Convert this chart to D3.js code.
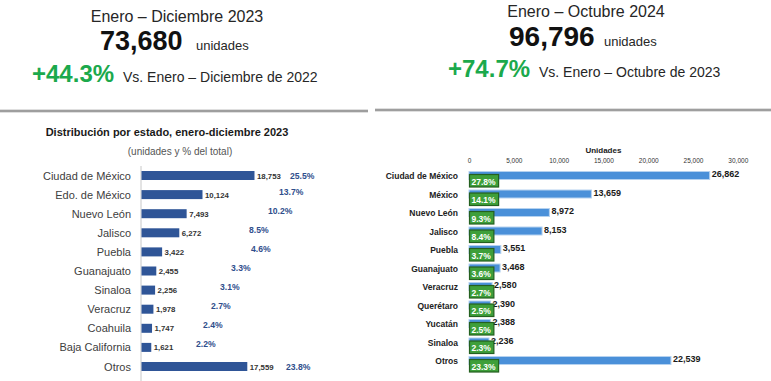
<!DOCTYPE html>
<html><head><meta charset="utf-8">
<script src="https://cdn.jsdelivr.net/npm/d3@7"></script>
<style>
html,body{margin:0;padding:0;background:#fff;}
svg{display:block;font-family:"Liberation Sans",Arial,sans-serif;}
</style></head>
<body>
<svg id="c" width="771" height="381"></svg>
<script>
// ---------- data ----------
const leftPeriod = "Enero – Diciembre 2023";
const leftTotal = "73,680";
const leftGrowth = "+44.3%";
const leftCompare = "Vs. Enero – Diciembre de 2022";
const leftTitle = "Distribución por estado, enero-diciembre 2023";
const leftSubtitle = "(unidades y % del total)";
const leftStates = ["Ciudad de México","Edo. de México","Nuevo León","Jalisco","Puebla","Guanajuato","Sinaloa","Veracruz","Coahuila","Baja California","Otros"];
const leftUnits = [18753,10124,7493,6272,3422,2455,2256,1978,1747,1621,17559];
const leftShare = [25.5,13.7,10.2,8.5,4.6,3.3,3.1,2.7,2.4,2.2,23.8];

const rightPeriod = "Enero – Octubre 2024";
const rightTotal = "96,796";
const rightGrowth = "+74.7%";
const rightCompare = "Vs. Enero – Octubre de 2023";
const rightAxisTitle = "Unidades";
const rightStates = ["Ciudad de México","México","Nuevo León","Jalisco","Puebla","Guanajuato","Veracruz","Querétaro","Yucatán","Sinaloa","Otros"];
const rightUnits = [26862,13659,8972,8153,3551,3468,2580,2390,2388,2236,22539];
const rightShare = [27.8,14.1,9.3,8.4,3.7,3.6,2.7,2.5,2.5,2.3,23.3];
const rightTicks = [0,5000,10000,15000,20000,25000,30000];

// ---------- layout (pixel offsets of the left % labels, as placed in the original) ----------
const leftShareLabelX = [290,279,268,249,251,231,220,211,203,196,286];

const svg = d3.select("#c");
const fmt = d3.format(",");
const GREEN = "#1BA94C";

// ---------- headers ----------
function header(cfg){
  svg.append("text").attr("x",cfg.cx).attr("y",cfg.y1).attr("text-anchor","middle")
    .attr("font-size",16).attr("fill","#262626").text(cfg.period);
  svg.append("text").attr("x",cfg.xTot).attr("y",cfg.y2).attr("font-size",cfg.totSize)
    .attr("font-weight","bold").attr("fill","#111").text(cfg.total);
  svg.append("text").attr("x",cfg.xUni).attr("y",cfg.y2).attr("font-size",13)
    .attr("fill","#262626").text("unidades");
  svg.append("text").attr("x",cfg.xG).attr("y",cfg.y3).attr("font-size",24)
    .attr("font-weight","bold").attr("fill",GREEN).text(cfg.growth);
  svg.append("text").attr("x",cfg.xV).attr("y",cfg.y3).attr("font-size",14)
    .attr("fill","#262626").text(cfg.compare);
}
header({cx:177,y1:21.5,period:leftPeriod,xTot:100,y2:50,totSize:27,total:leftTotal,xUni:196,
  xG:32,y3:82,growth:leftGrowth,xV:123,compare:leftCompare});
header({cx:586,y1:16.5,period:rightPeriod,xTot:509,y2:46,totSize:28,total:rightTotal,xUni:604,
  xG:448,y3:77,growth:rightGrowth,xV:539,compare:rightCompare});

// separators
[[0,368,111],[375,771,110]].forEach(([a,b,y])=>{
  svg.append("line").attr("x1",a).attr("x2",b).attr("y1",y).attr("y2",y)
    .attr("stroke","#d4d4d4").attr("stroke-width",3.5);
  svg.append("line").attr("x1",a).attr("x2",b).attr("y1",y).attr("y2",y)
    .attr("stroke","#8c8c8c").attr("stroke-width",1.5);
});

// ---------- left chart ----------
const gl = svg.append("g");
gl.append("text").attr("x",167).attr("y",136).attr("text-anchor","middle")
  .attr("font-size",11).attr("font-weight","bold").attr("fill","#1a1a1a").text(leftTitle);
gl.append("text").attr("x",180).attr("y",155).attr("text-anchor","middle")
  .attr("font-size",10).attr("fill","#555").text(leftSubtitle);

const xL = d3.scaleLinear().domain([0,20000]).range([141,141+120.5]);
const yL = d3.scalePoint().domain(leftStates).range([175.5,366.5]);

gl.append("line").attr("x1",xL(0)).attr("x2",xL(0)).attr("y1",166).attr("y2",381)
  .attr("stroke","#c8c8c8").attr("stroke-width",1);

gl.selectAll("rect.bl").data(leftStates).join("rect").attr("class","bl")
  .attr("x",xL(0)+0.5).attr("y",d=>yL(d)-4.5).attr("height",9)
  .attr("width",(d,i)=>xL(leftUnits[i])-xL(0)).attr("fill","#2F5597");

gl.selectAll("text.cl").data(leftStates).join("text").attr("class","cl")
  .attr("x",131).attr("y",d=>yL(d)+4).attr("text-anchor","end")
  .attr("font-size",11).attr("fill","#404040").text(d=>d);

gl.selectAll("text.vl").data(leftStates).join("text").attr("class","vl")
  .attr("x",(d,i)=>xL(leftUnits[i])+3).attr("y",d=>yL(d)+3)
  .attr("font-size",7.8).attr("font-weight","bold").attr("fill","#333")
  .text((d,i)=>fmt(leftUnits[i]));

gl.selectAll("text.pl").data(leftStates).join("text").attr("class","pl")
  .attr("x",(d,i)=>leftShareLabelX[i]).attr("y",(d,i)=>yL(d)+(i===0||i===10?3:0))
  .attr("font-size",8.6).attr("font-weight","bold").attr("fill","#2F4E8C")
  .text((d,i)=>leftShare[i].toFixed(1)+"%");

// ---------- right chart ----------
const gr = svg.append("g");
const xR = d3.scaleLinear().domain([0,30000]).range([469,469+268.8]);
const yR = d3.scalePoint().domain(rightStates).range([176,361]);

gr.append("text").attr("x",xR(15000)).attr("y",153).attr("text-anchor","middle")
  .attr("font-size",8).attr("font-weight","bold").attr("fill","#1a1a1a").text(rightAxisTitle);

const axR = d3.axisTop(xR).tickValues(rightTicks).tickFormat(d3.format(",")).tickSize(0);
const axG = gr.append("g").attr("transform","translate(0,166)").call(axR);
axG.select(".domain").remove();
axG.selectAll("text").attr("font-size",6.5).attr("font-family","Liberation Sans, Arial")
  .attr("fill","#333").attr("dy",0);

gr.selectAll("rect.br").data(rightStates).join("rect").attr("class","br")
  .attr("x",xR(0)).attr("y",d=>yR(d)-4.5).attr("height",8)
  .attr("width",(d,i)=>xR(rightUnits[i])-xR(0))
  .attr("fill","#4A90D9").attr("stroke","#B5D2F0").attr("stroke-width",1);

gr.selectAll("text.cr").data(rightStates).join("text").attr("class","cr")
  .attr("x",458).attr("y",d=>yR(d)+3).attr("text-anchor","end")
  .attr("font-size",8.5).attr("font-weight","bold").attr("fill","#222").text(d=>d);

gr.selectAll("text.vr").data(rightStates).join("text").attr("class","vr")
  .attr("x",(d,i)=>xR(rightUnits[i])+2).attr("y",d=>yR(d)+1)
  .attr("font-size",9).attr("font-weight","bold").attr("fill","#1a1a1a")
  .text((d,i)=>fmt(rightUnits[i]));

// green share boxes
const boxes = gr.selectAll("g.gb").data(rightStates).join("g").attr("class","gb");
boxes.each(function(d,i){
  const g = d3.select(this);
  const r = g.append("rect");
  const t = g.append("text").attr("x",xR(0)+2.5).attr("y",yR(d)+8.5)
    .attr("font-size",8.5).attr("font-weight","bold").attr("fill","#fff")
    .text(rightShare[i].toFixed(1)+"%");
  const w = t.node().getComputedTextLength();
  r.attr("x",xR(0)+0.5).attr("y",yR(d)-1.5).attr("width",w+5).attr("height",12.5)
    .attr("fill","#3E9F3A").attr("stroke","#24601F").attr("stroke-width",1.2);
});
</script>
</body></html>
